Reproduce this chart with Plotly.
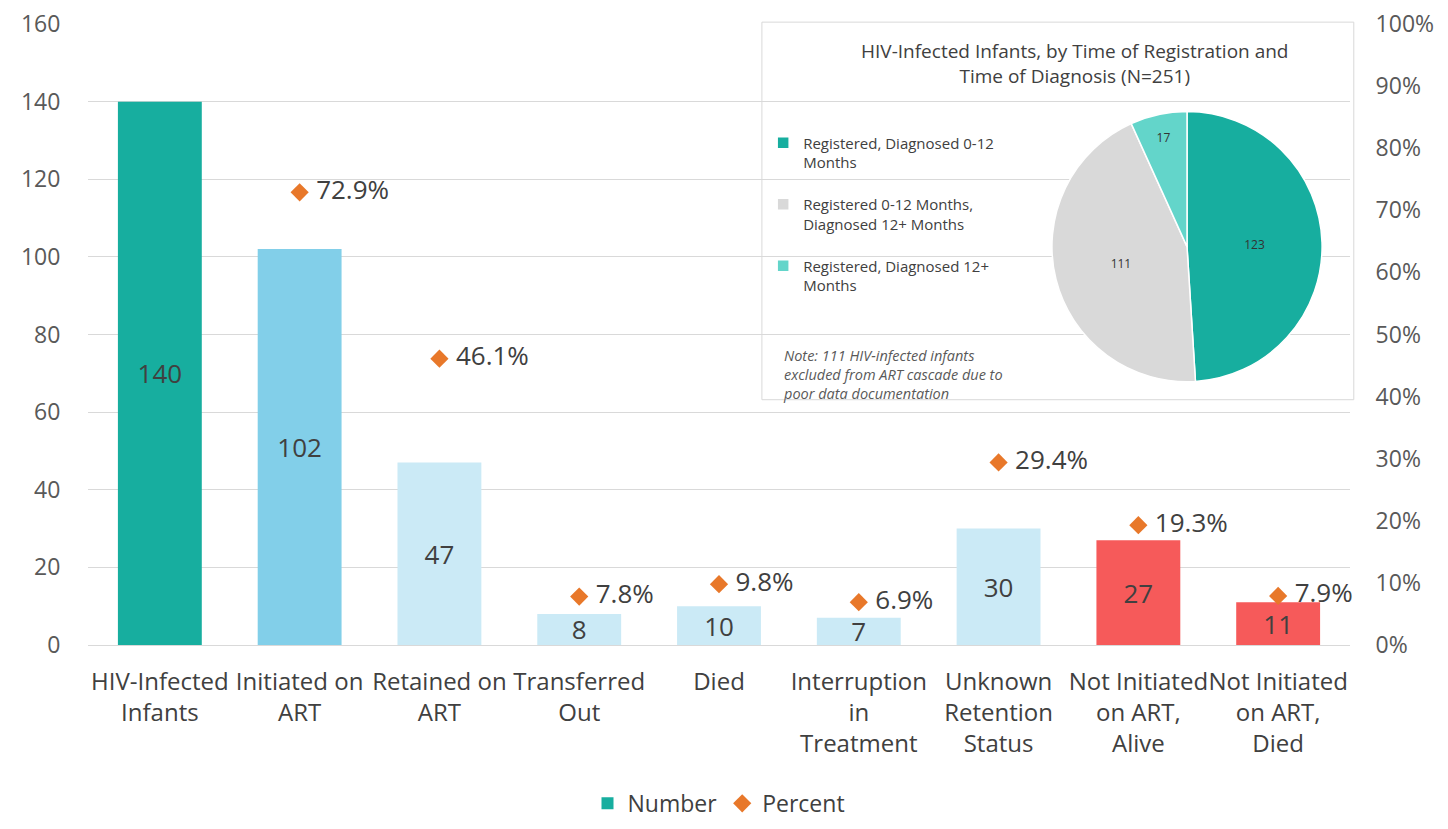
import plotly.graph_objects as go

# cascade data
categories = ["HIV-Infected<br>Infants", "Initiated on<br>ART", "Retained on<br>ART",
              "Transferred<br>Out", "Died", "Interruption<br>in<br>Treatment",
              "Unknown<br>Retention<br>Status", "Not Initiated<br>on ART,<br>Alive",
              "Not Initiated<br>on ART,<br>Died"]
numbers = [140, 102, 47, 8, 10, 7, 30, 27, 11]
percents = [None, 0.729, 0.461, 0.078, 0.098, 0.069, 0.294, 0.193, 0.079]
bar_colors = ["#17AE9F", "#82CFE9", "#CBEAF6", "#CBEAF6", "#CBEAF6", "#CBEAF6",
              "#CBEAF6", "#F65A5A", "#F65A5A"]

# inset pie data
pie_labels = ["Registered, Diagnosed 0-12<br>Months<br> ",
              "Registered 0-12 Months,<br>Diagnosed 12+ Months<br> ",
              "Registered, Diagnosed 12+<br>Months<br> "]
pie_values = [123, 111, 17]
pie_colors = ["#17AE9F", "#D9D9D9", "#63D5CA"]

txt = "#404040"
font = "Open Sans"
clear = "rgba(0,0,0,0)"

fig = go.Figure()

fig.add_trace(go.Bar(
    x=categories, y=numbers, name="Number",
    marker=dict(color=bar_colors, line=dict(width=0)),
    text=numbers, textposition="inside", insidetextanchor="middle",
    textangle=0, constraintext="none",
    textfont=dict(size=26, color=txt), width=0.6,
    legend="legend"
))

fig.add_trace(go.Scatter(
    x=categories, y=percents, name="Percent", yaxis="y2",
    mode="markers+text",
    marker=dict(symbol="diamond", size=14, color="#E8782A"),
    text=[None if p is None else f" {p*100:.1f}%" for p in percents],
    textposition="middle right", textfont=dict(size=26, color=txt),
    cliponaxis=False, legend="legend"
))

fig.add_trace(go.Pie(
    labels=pie_labels, values=pie_values, sort=False, direction="clockwise",
    marker=dict(colors=pie_colors, line=dict(color="white", width=1.5)),
    textinfo="value", textposition="inside", insidetextorientation="horizontal",
    textfont=dict(size=12, color="#333333"), hoverinfo="value+percent",
    domain=dict(x=[0.7623, 0.9794], y=[0.424, 0.859]),
    legend="legend2", showlegend=True
))

fig.update_layout(
    width=1448, height=829,
    margin=dict(l=80, r=106, t=16, b=184),
    plot_bgcolor="white", paper_bgcolor="white",
    font=dict(family=font, color=txt),
    xaxis=dict(tickfont=dict(size=24, color=txt), showline=True, linecolor="#D9D9D9",
               ticks="outside", ticklen=15, tickcolor=clear,
               automargin=False, tickangle=0),
    yaxis=dict(range=[0, 160], dtick=20, gridcolor="#D9D9D9", zeroline=False,
               tickfont=dict(size=23, color="#595959"), automargin=False,
               ticks="outside", ticklen=22, tickcolor=clear, ticklabeloverflow="allow"),
    yaxis2=dict(range=[0, 1], dtick=0.1, tickformat=".0%", overlaying="y", side="right",
                showgrid=False, zeroline=False, tickfont=dict(size=23, color="#595959"),
                automargin=False, ticks="outside", ticklen=20, tickcolor=clear,
                ticklabeloverflow="allow"),
    legend=dict(orientation="h", x=0.5, xanchor="center", y=-0.255, yanchor="middle",
                font=dict(size=23, color=txt), traceorder="normal"),
    legend2=dict(x=0.535, xanchor="left", y=0.835, yanchor="top", valign="top",
                 font=dict(size=15, color=txt), bgcolor=clear, itemwidth=30),
    shapes=[dict(type="rect", xref="paper", yref="paper", x0=0.534, x1=1.003,
                 y0=0.395, y1=1.003, fillcolor="white",
                 line=dict(color="#D9D9D9", width=1), layer="between")],
    annotations=[
        dict(text="HIV-Infected Infants, by Time of Registration and<br>Time of Diagnosis (N=251)",
             xref="paper", yref="paper", x=0.782, y=0.98, xanchor="center", yanchor="top",
             showarrow=False, font=dict(size=19, color=txt)),
        dict(text="<i>Note: 111 HIV-infected infants<br>excluded from ART cascade due to<br>poor data documentation</i>",
             xref="paper", yref="paper", x=0.549, y=0.484, xanchor="left", yanchor="top",
             showarrow=False, align="left", font=dict(size=14.5, color="#595959")),
    ],
)

fig.write_html("out.html")
